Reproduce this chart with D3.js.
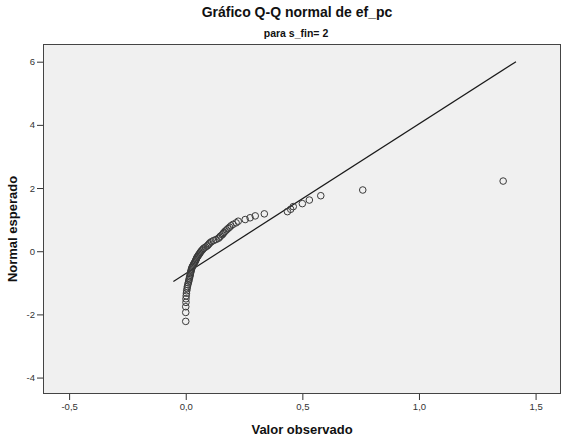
<!DOCTYPE html>
<html>
<head>
<meta charset="utf-8">
<script src="https://cdn.jsdelivr.net/npm/d3@7"></script>
<style>
  html, body { margin: 0; padding: 0; background: #ffffff; }
  svg { display: block; font-family: "Liberation Sans", Arial, sans-serif; }
</style>
</head>
<body>
<svg id="chart" width="563" height="437"></svg>
<script>
// Observed values of ef_pc (sorted) for s_fin = 2
const observed = [
  0.000, 0.000, 0.000, 0.001, 0.001, 0.002, 0.003, 0.004, 0.006, 0.007,
  0.009, 0.011, 0.013, 0.014, 0.016, 0.017, 0.019, 0.020, 0.021, 0.022,
  0.024, 0.025, 0.027, 0.029, 0.032, 0.034, 0.037, 0.040, 0.042, 0.044,
  0.046, 0.048, 0.051, 0.054, 0.057, 0.060, 0.063, 0.066, 0.070, 0.074,
  0.078, 0.085, 0.092, 0.096, 0.100, 0.104, 0.110, 0.119, 0.130, 0.140,
  0.145, 0.149, 0.156, 0.160, 0.164, 0.169, 0.175, 0.181, 0.188, 0.194,
  0.203, 0.216, 0.225, 0.255, 0.276, 0.298, 0.337, 0.436, 0.450, 0.461,
  0.500, 0.530, 0.579, 0.759, 1.361
];

// Expected normal values paired with each observation
const expected = [
  -2.221, -1.938, -1.757, -1.620, -1.507, -1.412, -1.328, -1.253, -1.183, -1.119,
  -1.059, -1.003, -0.950, -0.899, -0.851, -0.805, -0.760, -0.716, -0.674, -0.634,
  -0.594, -0.555, -0.517, -0.479, -0.443, -0.407, -0.371, -0.336, -0.301, -0.267,
  -0.233, -0.199, -0.166, -0.132, -0.099, -0.066, -0.033, 0.000, 0.033, 0.066,
  0.099, 0.132, 0.166, 0.199, 0.233, 0.267, 0.301, 0.336, 0.371, 0.407,
  0.443, 0.479, 0.517, 0.555, 0.594, 0.634, 0.674, 0.716, 0.760, 0.805,
  0.851, 0.899, 0.950, 1.003, 1.059, 1.119, 1.183, 1.253, 1.328, 1.412,
  1.507, 1.620, 1.757, 1.938, 2.221
];

// Reference line endpoints (observed, expected)
const refLineX = [-0.053, 1.416];
const refLineY = [-0.96, 6.0];

const xTicks = [-0.5, 0.0, 0.5, 1.0, 1.5];
const yTicks = [-4, -2, 0, 2, 4, 6];

const titleText = "Gráfico Q-Q normal de ef_pc";
const subtitleText = "para s_fin= 2";
const xLabel = "Valor observado";
const yLabel = "Normal esperado";

const svg = d3.select("#chart");
const plot = { left: 43, top: 44, right: 561, bottom: 394 };

const x = d3.scaleLinear().domain([-0.612, 1.609]).range([plot.left, plot.right]);
const y = d3.scaleLinear().domain([-4.52, 6.56]).range([plot.bottom, plot.top]);

const fmt = d => d3.format(".1f")(d).replace(".", ",").replace("−", "-");

// plot background
svg.append("rect")
  .attr("x", plot.left).attr("y", plot.top)
  .attr("width", plot.right - plot.left).attr("height", plot.bottom - plot.top)
  .attr("fill", "#f0f0f0");

// axes
const xAxis = svg.append("g")
  .attr("transform", `translate(0,${plot.bottom})`)
  .call(d3.axisBottom(x).tickValues(xTicks).tickFormat(fmt).tickSize(6).tickPadding(3));
const yAxis = svg.append("g")
  .attr("transform", `translate(${plot.left},0)`)
  .call(d3.axisLeft(y).tickValues(yTicks).tickFormat(d => String(d)).tickSize(6).tickPadding(2));

[xAxis, yAxis].forEach(g => {
  g.select(".domain").remove();
  g.selectAll(".tick line").attr("stroke", "#333").attr("stroke-width", 1);
  g.selectAll(".tick text").attr("fill", "#333")
    .attr("font-family", "'Liberation Sans', Arial, sans-serif")
    .attr("font-size", 9.5);
});

// frame
svg.append("rect")
  .attr("x", plot.left + 0.5).attr("y", plot.top + 0.5)
  .attr("width", plot.right - plot.left - 1).attr("height", plot.bottom - plot.top - 1)
  .attr("fill", "none").attr("stroke", "#444").attr("stroke-width", 1);

// reference line
svg.append("line")
  .attr("x1", x(refLineX[0])).attr("y1", y(refLineY[0]))
  .attr("x2", x(refLineX[1])).attr("y2", y(refLineY[1]))
  .attr("stroke", "#1a1a1a").attr("stroke-width", 1.2);

// points
svg.append("g").selectAll("circle")
  .data(d3.zip(observed, expected))
  .join("circle")
  .attr("cx", d => x(d[0]))
  .attr("cy", d => y(d[1]))
  .attr("r", 3.3)
  .attr("fill", "none")
  .attr("stroke", "#3a3a3a")
  .attr("stroke-width", 1);

// titles
svg.append("text")
  .attr("x", 297).attr("y", 17)
  .attr("text-anchor", "middle")
  .attr("font-size", 14).attr("font-weight", "bold").attr("fill", "#111")
  .text(titleText);

svg.append("text")
  .attr("x", 296).attr("y", 37)
  .attr("text-anchor", "middle")
  .attr("font-size", 10.5).attr("font-weight", "bold").attr("fill", "#111")
  .text(subtitleText);

svg.append("text")
  .attr("x", (plot.left + plot.right) / 2).attr("y", 434)
  .attr("text-anchor", "middle")
  .attr("font-size", 13).attr("font-weight", "bold").attr("fill", "#111")
  .text(xLabel);

svg.append("text")
  .attr("transform", `translate(17,${(plot.top + plot.bottom) / 2 + 10}) rotate(-90)`)
  .attr("text-anchor", "middle")
  .attr("font-size", 13).attr("font-weight", "bold").attr("fill", "#111")
  .text(yLabel);
</script>
</body>
</html>
